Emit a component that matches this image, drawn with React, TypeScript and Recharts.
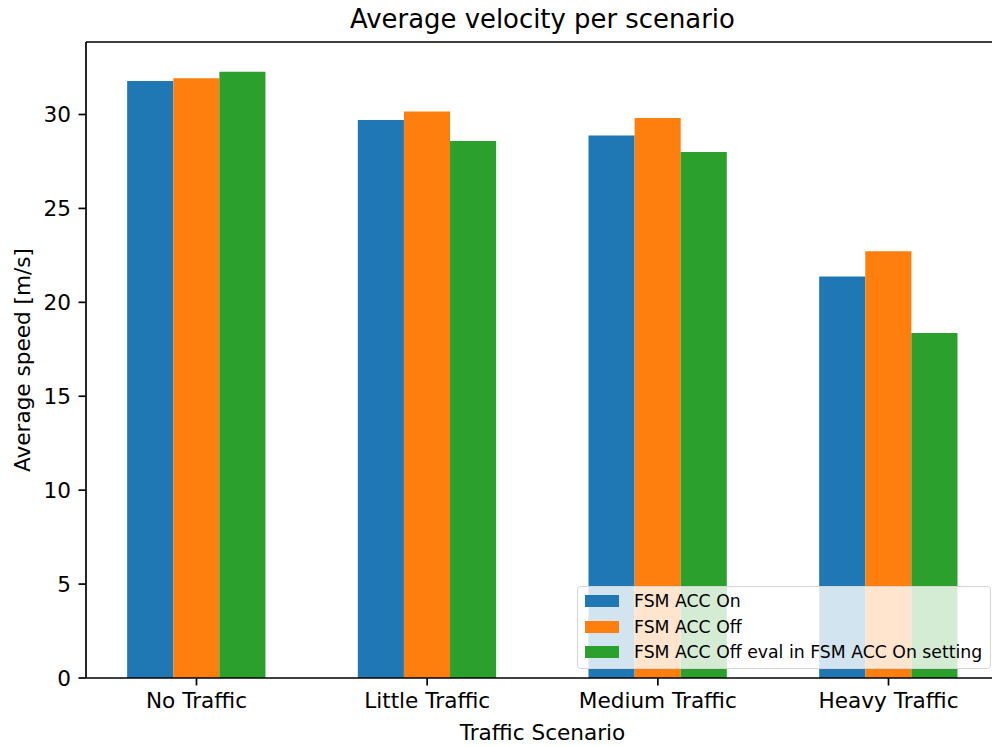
import { BarChart, Bar, XAxis, YAxis, Legend, ReferenceLine } from 'recharts';

const scenarios = ['No Traffic', 'Little Traffic', 'Medium Traffic', 'Heavy Traffic'];
const accOn = [31.79, 29.71, 28.88, 21.37];
const accOff = [31.93, 30.16, 29.82, 22.72];
const accOffEval = [32.27, 28.59, 28.01, 18.37];
const yTicks = [0, 5, 10, 15, 20, 25, 30];

const series = [
  { key: 'accOn', name: 'FSM ACC On', color: '#1f77b4' },
  { key: 'accOff', name: 'FSM ACC Off', color: '#ff7f0e' },
  { key: 'accOffEval', name: 'FSM ACC Off eval in FSM ACC On setting', color: '#2ca02c' },
];

const data = scenarios.map((name, i) => ({
  idx: i,
  name,
  accOn: accOn[i],
  accOff: accOff[i],
  accOffEval: accOffEval[i],
}));

const FONT = '"DejaVu Sans", sans-serif';
const LINE = 1.7;
const X_DOMAIN: [number, number] = [-0.479, 3.479];
const Y_DOMAIN: [number, number] = [0, 33.86];

const tickStyle = { fill: '#000', fontSize: 21.6, fontFamily: FONT };

// title sits above the top frame line
const TitleLabel = ({ viewBox }: any) => (
  <text x={viewBox.x + viewBox.width / 2} y={viewBox.y - 14} textAnchor="middle"
    fontSize={25.9} fontFamily={FONT} fill="#000">
    Average velocity per scenario
  </text>
);

const XLabel = ({ viewBox }: any) => (
  <text x={viewBox.x + viewBox.width / 2} y={viewBox.y + 62} textAnchor="middle"
    fontSize={21.6} fontFamily={FONT} fill="#000">
    Traffic Scenario
  </text>
);

const YLabel = ({ viewBox }: any) => {
  const cx = 22;
  const cy = viewBox.y + viewBox.height / 2;
  return (
    <text x={cx} y={cy} textAnchor="middle" dominantBaseline="central"
      transform={`rotate(-90 ${cx} ${cy})`} fontSize={21.6} fontFamily={FONT} fill="#000">
      Average speed [m/s]
    </text>
  );
};

const LegendBox = () => (
  <div style={{
    width: 414, height: 83, boxSizing: 'border-box', paddingTop: 1.2,
    background: 'rgba(255,255,255,0.8)', border: '1px solid #d5d5d5', borderRadius: 4,
    fontFamily: FONT, fontSize: 17.3, color: '#000',
  }}>
    {series.map((s) => (
      <div key={s.key} style={{ display: 'flex', alignItems: 'center', height: 25.6 }}>
        <span style={{ display: 'inline-block', width: 34, height: 12, marginLeft: 7, marginRight: 15, background: s.color }} />
        <span style={{ whiteSpace: 'nowrap' }}>{s.name}</span>
      </div>
    ))}
  </div>
);

export default function App() {
  return (
    <div style={{ position: 'absolute', left: 0, top: 0, width: 992, height: 747, overflow: 'hidden', background: '#fff' }}>
      <BarChart width={1000} height={747} data={data} margin={{ top: 42, right: 1, bottom: 0, left: 0 }}
        barGap={0} style={{ fontFamily: FONT }}>
        <XAxis dataKey="idx" type="number" domain={X_DOMAIN} ticks={[0, 1, 2, 3]} interval={0}
          tickFormatter={(v: number) => scenarios[v] ?? ''} height={69}
          tick={tickStyle} tickSize={7.5} tickMargin={7.5}
          axisLine={{ stroke: '#000', strokeWidth: LINE }} tickLine={{ stroke: '#000', strokeWidth: LINE }}
          label={<XLabel />} />
        <YAxis type="number" domain={Y_DOMAIN} ticks={yTicks} width={86}
          tick={tickStyle} tickSize={7.5} tickMargin={7.5}
          axisLine={{ stroke: '#000', strokeWidth: LINE }} tickLine={{ stroke: '#000', strokeWidth: LINE }}
          label={<YLabel />} />
        {series.map((s) => (
          <Bar key={s.key} dataKey={s.key} name={s.name} fill={s.color} barSize={46.1} isAnimationActive={false} />
        ))}
        <ReferenceLine y={Y_DOMAIN[1]} stroke="#000" strokeWidth={LINE} label={<TitleLabel />} />
        <ReferenceLine x={X_DOMAIN[1]} stroke="#000" strokeWidth={LINE} />
        <Legend layout="vertical" align="center" verticalAlign="middle" content={<LegendBox />}
          wrapperStyle={{ position: 'absolute', left: 577, top: 586, width: 414, height: 83 }} />
      </BarChart>
    </div>
  );
}
